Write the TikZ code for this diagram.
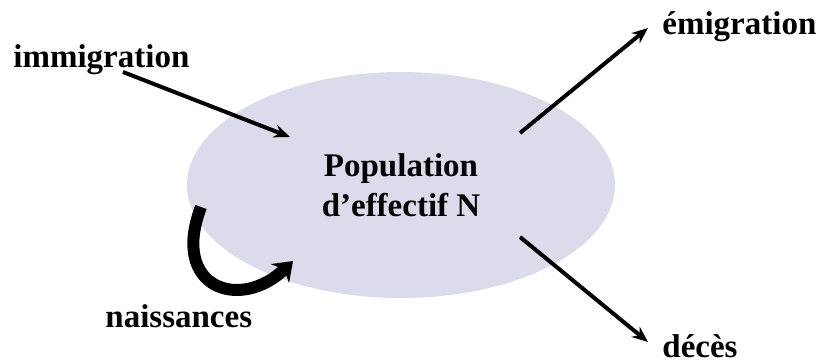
\documentclass[tikz,border=0pt]{standalone}
\usepackage{fontspec}
\setmainfont{Liberation Serif}
\definecolor{popfill}{RGB}{219, 220, 235}
\usetikzlibrary{shapes, arrows.meta, positioning, calc}

\begin{document}
\begin{tikzpicture}[x=0.5pt, y=-0.5pt,
        lbl/.style={font=\fontsize{16.5}{20}\selectfont\bfseries, inner sep=0pt},
        flux/.style={line width=2pt, -{Stealth[length=8pt, width=6.5pt]}}]
        \useasboundingbox (0,0) rectangle (822,363);
        % la population
        \node[ellipse, fill=popfill, minimum width=214pt, minimum height=113pt, lbl, align=center] (pop) at (401,185) {Population\\d’effectif N};
        % les flux
        \node[lbl, anchor=base west] (immig) at (13,68) {immigration};
        \node[lbl, anchor=base west] (emig) at (662,35) {émigration};
        \node[lbl, anchor=base west] (naiss) at (105,327) {naissances};
        \node[lbl, anchor=base west] (deces) at (662,357) {décès};
        \coordinate (immA) at (123,72);
        \coordinate (immB) at (290,137);
        \coordinate (emA) at (520,133);
        \coordinate (emB) at (648,28);
        \coordinate (decA) at (520,237);
        \coordinate (decB) at (648,342);
        \coordinate (naA) at (201,207);
        \coordinate (naB) at (293,261);
        \draw[flux] (immA) -- (immB);
        \draw[flux] (emA) -- (emB);
        \draw[flux] (decA) -- (decB);
        \draw[line width=6pt, -{Stealth[length=9pt, width=13pt]}] (naA) .. controls (170,288) and (240,312) .. (naB);
    \end{tikzpicture}
\end{document}
